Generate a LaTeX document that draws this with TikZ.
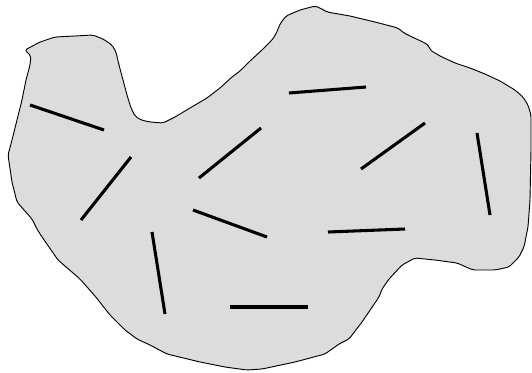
\documentclass[tikz,border=0pt]{standalone}
\definecolor{blobgray}{HTML}{DCDCDC}
\tikzset{
  blob/.style={draw=black, fill=blobgray, line width=0.7pt, line join=round, rounded corners=1.5pt},
  stick/.style={draw=black, line width=2.3pt}
}
\begin{document}
\begin{tikzpicture}[x=0.75pt, y=-0.75pt]
\useasboundingbox (0,0) rectangle (532,372);
\path[blob] (25,50) -- (40,42) -- (55,37) -- (75,36) -- (93,35) -- (103,39) -- (112,45) -- (116,52)
 -- (119,65) -- (123,80) -- (127,95) -- (131,108) -- (135,116) -- (141,120) -- (150,122) -- (163,123)
 -- (175,117) -- (190,108) -- (207,98) -- (220,88) -- (232,77) -- (240,71) -- (250,61) -- (262,50)
 -- (272,40) -- (276,34) -- (280,24) -- (286,16) -- (300,10) -- (315,6) -- (320,8) -- (327,12)
 -- (350,16) -- (375,22) -- (398,28) -- (404,33) -- (410,36) -- (425,43) -- (429,46) -- (430,50)
 -- (440,56) -- (455,63) -- (470,68) -- (485,74) -- (500,81) -- (515,90) -- (523,97) -- (528,105)
 -- (531,115) -- (531,150) -- (530,200) -- (528,227) -- (524,247) -- (519,257) -- (509,267)
 -- (495,270) -- (473,270) -- (457,263) -- (435,260) -- (415,258) -- (402,265) -- (389,279)
 -- (382,289) -- (379,297) -- (362,322) -- (349,339) -- (339,344) -- (325,354) -- (295,362)
 -- (262,369) -- (247,370) -- (225,367) -- (200,362) -- (167,354) -- (150,345) -- (137,339)
 -- (125,330) -- (110,315) -- (95,296) -- (80,279) -- (58,260) -- (40,234) -- (37,229)
 -- (32,219) -- (17,202) -- (12,182) -- (8,155) -- (12,140) -- (17,120) -- (22,100) -- (26,80)
 -- (30,65) -- (31,56) -- (28,53) -- cycle;
\coordinate (a1) at (30,105);  \coordinate (a2) at (104,130);
\coordinate (b1) at (131,157); \coordinate (b2) at (81,220);
\coordinate (c1) at (199,178); \coordinate (c2) at (261,128);
\coordinate (d1) at (289,93);  \coordinate (d2) at (366,87);
\coordinate (e1) at (361,169); \coordinate (e2) at (425,123);
\coordinate (f1) at (477,133); \coordinate (f2) at (490,215);
\coordinate (g1) at (193,210); \coordinate (g2) at (267,237);
\coordinate (h1) at (152,232); \coordinate (h2) at (165,314);
\coordinate (i1) at (328,232); \coordinate (i2) at (405,229);
\coordinate (j1) at (230,307); \coordinate (j2) at (308,307);
\draw[stick] (a1) -- (a2);
\draw[stick] (b1) -- (b2);
\draw[stick] (c1) -- (c2);
\draw[stick] (d1) -- (d2);
\draw[stick] (e1) -- (e2);
\draw[stick] (f1) -- (f2);
\draw[stick] (g1) -- (g2);
\draw[stick] (h1) -- (h2);
\draw[stick] (i1) -- (i2);
\draw[stick] (j1) -- (j2);
\end{tikzpicture}
\end{document}
